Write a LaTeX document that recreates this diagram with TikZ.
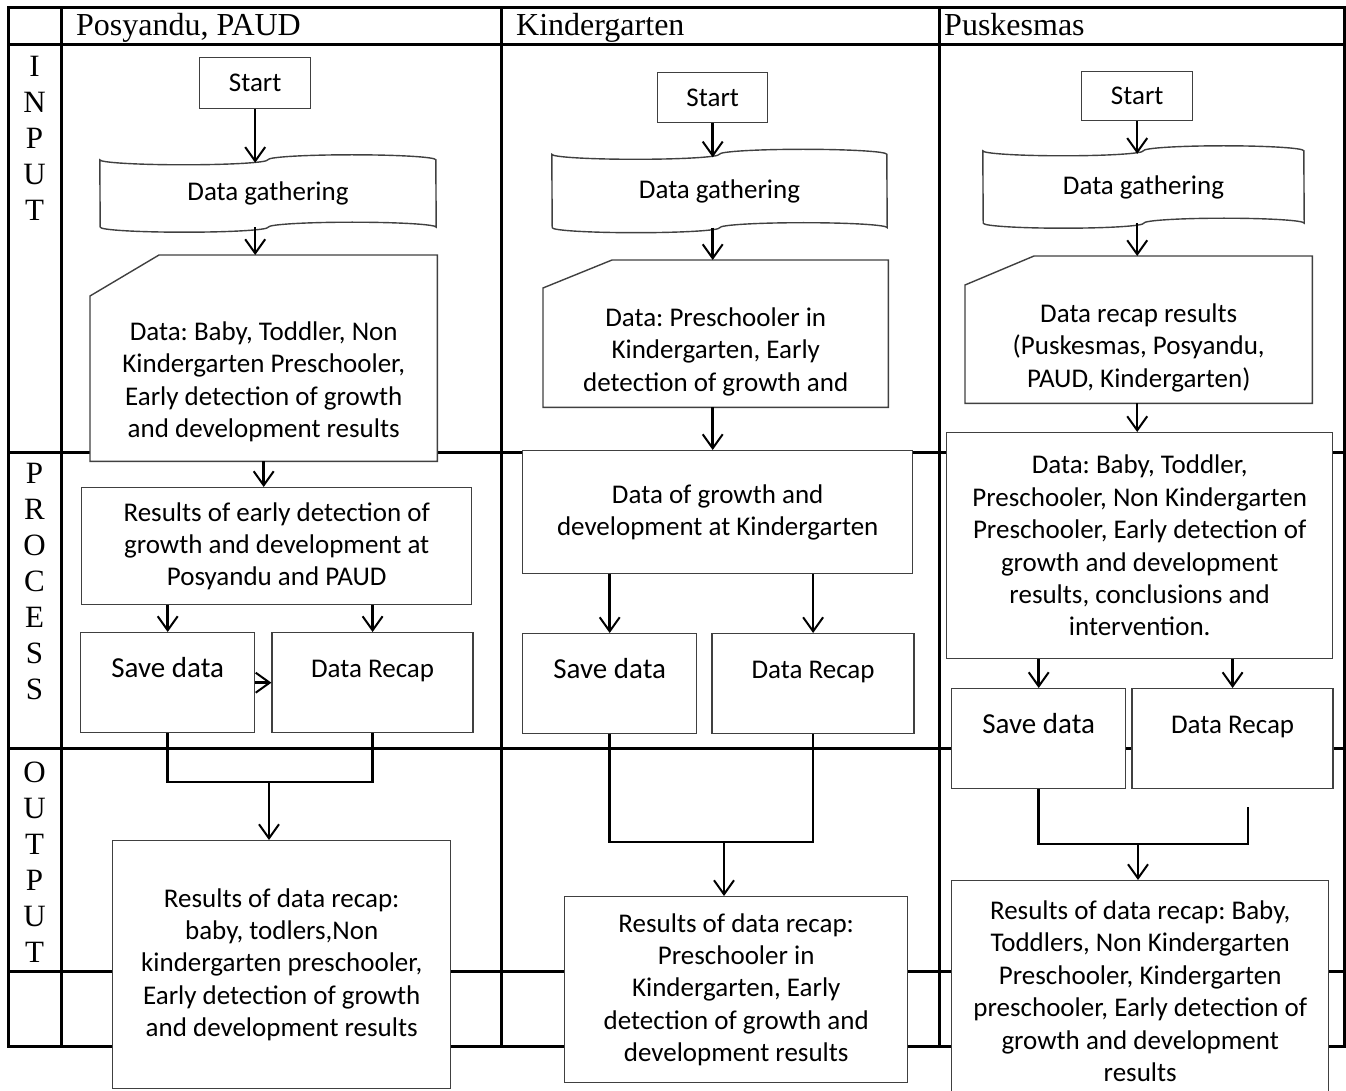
\documentclass[tikz,border=0pt]{standalone}
\usepackage{fontspec}
\setmainfont{Liberation Serif}
\newfontfamily\calfont{Carlito}
\usetikzlibrary{arrows.meta, positioning}
\newcommand{\stacklines}[1]{\begin{tabular}[t]{@{}c@{}}#1\end{tabular}}
\frenchspacing

\begin{document}
\begin{tikzpicture}[x=1pt, y=-1pt]
	\tikzstyle{grid} = [line width=3pt]
	\tikzstyle{Edge} = [draw=black!75, line width=1.4pt]
	\tikzstyle{Box} = [rectangle, Edge, fill=white, inner sep=0pt, anchor=north west, align=center, font=\calfont\fontsize{27}{32.4}\selectfont]
	\tikzstyle{Step} = [rectangle, Edge, fill=white, inner sep=0pt, anchor=north west, text height=45pt, text depth=55pt, font=\calfont\fontsize{27}{32.4}\selectfont]
	\tikzstyle{Card} = [rectangle, fill=white, inner sep=0pt, anchor=north west, font=\calfont\fontsize{27}{32.4}\selectfont]
	\tikzstyle{Tape} = [rectangle, inner sep=0pt, font=\calfont\fontsize{27}{32.4}\selectfont]
	\tikzstyle{Head} = [anchor=base west, inner sep=0pt, font=\fontsize{32}{36.5}\selectfont]
	\tikzstyle{Lane} = [anchor=base, inner sep=0pt, font=\fontsize{31}{36}\selectfont]
	\tikzstyle{line} = [line width=2.5pt]
	\tikzstyle{arrow} = [line width=2.5pt, -{Straight Barb[length=14pt, width=20pt, line width=2pt]}]

	\useasboundingbox (0,0) rectangle (1346,1091);

	% table
	\draw[grid] (8,8) rectangle (1344,1046);
	\foreach \x in {61,501,939} \draw[grid] (\x,8) -- (\x,1046);
	\foreach \y in {45,452,748,971} \draw[grid] (8,\y) -- (1344,\y);

	\node (hd1) [Head] at (76,36) {Posyandu, PAUD};
	\node (hd2) [Head] at (516,36) {Kindergarten};
	\node (hd3) [Head] at (944,36) {Puskesmas};
	\node (lin) [Lane] at (34.5,77) {\stacklines{I\\N\\P\\U\\T}};
	\node (lproc) [Lane] at (34.5,483) {\stacklines{P\\R\\O\\C\\E\\S\\S}};
	\node (lout) [Lane] at (34.5,782) {\stacklines{O\\U\\T\\P\\U\\T}};

	% Posyandu, PAUD
	\node (start1) [Box, minimum width=111pt, minimum height=51pt] at (199,57) {Start};
	\node (tape1) [Tape, minimum width=336pt, minimum height=67pt] at (268,193.5) {Data gathering};
	\node (card1) [Card, minimum width=347pt, text height=85pt, text depth=121pt] at (90,255) {\stacklines{Data: Baby, Toddler, Non\\Kindergarten Preschooler,\\Early detection of growth\\and development results}};
	\node (res1) [Box, minimum width=390pt, minimum height=117pt] at (81,487) {Results of early detection of\\growth and development at\\Posyandu and PAUD};
	\node (save1) [Step, minimum width=174pt, font=\calfont\fontsize{29}{34}\selectfont] at (80,632) {Save data};
	\node (recap1) [Step, minimum width=201pt, right=16pt of save1] {Data Recap};
	\node (out1) [Box, minimum width=338pt, minimum height=248pt] at (112,840) {Results of data recap:\\baby, todlers,Non\\kindergarten preschooler,\\Early detection of growth\\and development results};

	% Kindergarten
	\node (start2) [Box, minimum width=110pt, minimum height=50pt] at (657,72) {Start};
	\node (tape2) [Tape, minimum width=335pt, minimum height=73pt] at (719.5,191) {Data gathering};
	\node (card2) [Card, minimum width=345pt, text height=66pt, text depth=81pt] at (543,260) {\stacklines{Data: Preschooler in\\Kindergarten, Early\\detection of growth and}};
	\node (grow2) [Box, minimum width=390pt, minimum height=123pt] at (522,450) {Data of growth and\\development at Kindergarten};
	\node (save2) [Step, minimum width=174pt, font=\calfont\fontsize{29}{34}\selectfont] at (522,633) {Save data};
	\node (recap2) [Step, minimum width=202pt, right=14pt of save2] {Data Recap};
	\node (out2) [Box, minimum width=343pt, minimum height=186pt] at (564,896) {Results of data recap:\\Preschooler in\\Kindergarten, Early\\detection of growth and\\development results};

	% Puskesmas
	\node (start3) [Box, minimum width=111pt, minimum height=49pt] at (1081,71) {Start};
	\node (tape3) [Tape, minimum width=321pt, minimum height=72pt] at (1143.5,187) {Data gathering};
	\node (card3) [Card, minimum width=347pt, text height=66pt, text depth=81pt] at (965,256) {\stacklines{Data recap results\\(Puskesmas, Posyandu,\\PAUD, Kindergarten)}};
	\node (data3) [Box, minimum width=386pt, minimum height=226pt] at (946,432) {Data: Baby, Toddler,\\Preschooler, Non Kindergarten\\Preschooler, Early detection of\\growth and development\\results, conclusions and\\intervention.};
	\node (save3) [Step, minimum width=174pt, font=\calfont\fontsize{29}{34}\selectfont] at (951,688) {Save data};
	\node (recap3) [Step, minimum width=201pt, right=5pt of save3] {Data Recap};
	\node (out3) [Box, minimum width=377pt, minimum height=221pt] at (951,880) {Results of data recap: Baby,\\Toddlers, Non Kindergarten\\Preschooler, Kindergarten\\preschooler, Early detection of\\growth and development\\results};

	% punched card and tape outlines
	\foreach \c/\cx/\cy in {card1/69/41, card2/69/28, card3/69/29}
		\draw[Edge] ([xshift=\cx pt]\c.north west) -- (\c.north east) -- (\c.south east) -- (\c.south west) -- ([yshift=-\cy pt]\c.north west) -- cycle;
	\foreach \t/\r in {tape1/84, tape2/83.75, tape3/80.25}
		\draw[Edge] (\t.north west) arc[start angle=180, end angle=360, x radius=\r pt, y radius=5pt] arc[start angle=180, end angle=0, x radius=\r pt, y radius=5pt] -- (\t.south east) arc[start angle=0, end angle=180, x radius=\r pt, y radius=5pt] arc[start angle=0, end angle=-180, x radius=\r pt, y radius=5pt] -- cycle;

	\coordinate (m1) at (269,782);
	\coordinate (m2) at (724,842);
	\coordinate (m3) at (1138,844);
	\coordinate (r3) at (1248,807);

	\draw[arrow] (start1) -- ([yshift=-3pt]start1 |- tape1.north);
	\draw[arrow] (start1 |- tape1.south) -- (start1 |- card1.north);
	\draw[arrow] (card1) -- (card1 |- res1.north);
	\draw[arrow] (save1 |- res1.south) -- (save1);
	\draw[arrow] (recap1 |- res1.south) -- (recap1);
	\draw[arrow] (save1) -- (recap1);
	\draw[line] (save1) |- (m1) -| (recap1);
	\draw[arrow] (m1) -- (m1 |- out1.north);

	\draw[arrow] (start2) -- ([yshift=-3pt]start2 |- tape2.north);
	\draw[arrow] (start2 |- tape2.south) -- (start2 |- card2.north);
	\draw[arrow] (start2 |- card2.south) -- (start2 |- grow2.north);
	\draw[arrow] (save2 |- grow2.south) -- (save2);
	\draw[arrow] (recap2 |- grow2.south) -- (recap2);
	\draw[line] (save2) |- (m2) -| (recap2);
	\draw[arrow] (m2) -- (m2 |- out2.north);

	\draw[arrow] (start3) -- ([yshift=-3pt]start3 |- tape3.north);
	\draw[arrow] (start3 |- tape3.south) -- (start3 |- card3.north);
	\draw[arrow] (start3 |- card3.south) -- (start3 |- data3.north);
	\draw[arrow] (save3 |- data3.south) -- (save3);
	\draw[arrow] (recap3 |- data3.south) -- (recap3);
	\draw[line] (save3) |- (r3 |- m3) -- (r3);
	\draw[arrow] (m3) -- (m3 |- out3.north);
\end{tikzpicture}
\end{document}
